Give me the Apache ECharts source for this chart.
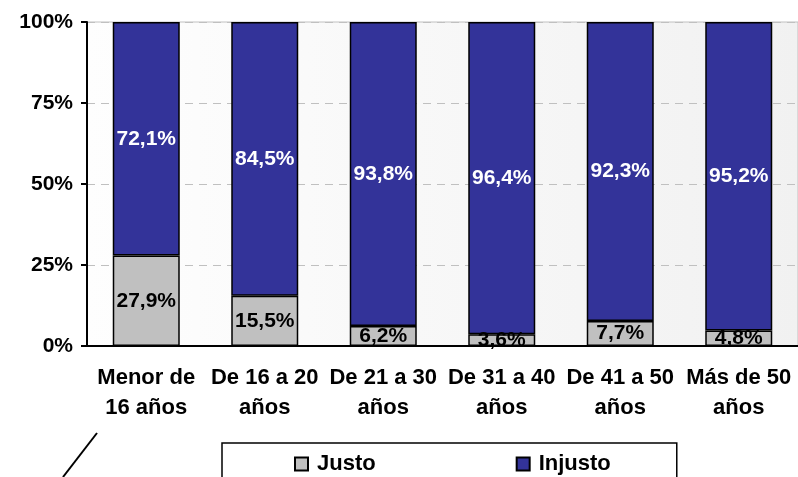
<!DOCTYPE html>
<html>
<head>
<meta charset="utf-8">
<title>Justo / Injusto por edad</title>
<script src="https://cdn.jsdelivr.net/npm/echarts@6/dist/echarts.min.js"></script>
<style>
html, body { margin: 0; padding: 0; background: #fff; }
#chart { width: 798px; height: 477px; }
</style>
</head>
<body>
<div id="chart"></div>
<script>
var categories = ['Menor de\n16 años', 'De 16 a 20\naños', 'De 21 a 30\naños', 'De 31 a 40\naños', 'De 41 a 50\naños', 'Más de 50\naños'];
var justo = [27.9, 15.5, 6.2, 3.6, 7.7, 4.8];
var injusto = [72.1, 84.5, 93.8, 96.4, 92.3, 95.2];
var yTicks = [0, 25, 50, 75, 100];

var font = 'Liberation Sans, Arial, sans-serif';

function pct(p) {
	return p.value.toFixed(1).replace('.', ',') + '%';
}

var chart = echarts.init(document.getElementById('chart'));
chart.setOption({
	animation: false,
	textStyle: { fontFamily: font },
	grid: {
		left: 87, top: 22, width: 713, height: 324,
		show: true,
		borderColor: '#c0c0c0',
		borderWidth: 1,
		backgroundColor: new echarts.graphic.LinearGradient(0, 0, 1, 0, [
			{ offset: 0, color: '#fefefe' },
			{ offset: 1, color: '#f1f1f1' }
		])
	},
	legend: {
		data: ['Justo', 'Injusto'],
		icon: 'rect',
		left: 222, top: 443,
		padding: [10, 66, 19, 72],
		itemGap: 140,
		itemWidth: 13, itemHeight: 13,
		borderColor: '#000', borderWidth: 1.5,
		backgroundColor: '#fff',
		textStyle: { fontSize: 22, fontWeight: 'bold', color: '#000', fontFamily: font,
			padding: [0, 0, 0, 4] }
	},
	xAxis: {
		type: 'category',
		data: categories,
		axisLine: { lineStyle: { color: '#000', width: 2 } },
		axisTick: { length: 6, lineStyle: { color: '#000', width: 2 } },
		axisLabel: {
			margin: 17, interval: 0,
			fontSize: 22, fontWeight: 'bold', color: '#000', lineHeight: 30
		}
	},
	yAxis: {
		type: 'value',
		min: yTicks[0], max: yTicks[yTicks.length - 1], interval: 25,
		axisLine: { show: true, lineStyle: { color: '#000', width: 2 } },
		axisTick: { show: true, length: 6, lineStyle: { color: '#000', width: 2 } },
		axisLabel: {
			margin: 14, fontSize: 21, fontWeight: 'bold', color: '#000',
			formatter: '{value}%'
		},
		splitLine: { lineStyle: { color: '#c0c0c0', type: [8, 6], width: 1 } }
	},
	series: [
		{
			name: 'Justo', type: 'bar', stack: 'total', barWidth: 67,
			data: justo,
			itemStyle: { color: '#c0c0c0', borderColor: '#000', borderWidth: 1.5 },
			label: { show: true, position: 'inside', formatter: pct,
				fontSize: 21, fontWeight: 'bold', color: '#000' }
		},
		{
			name: 'Injusto', type: 'bar', stack: 'total', barWidth: 67,
			data: injusto,
			itemStyle: { color: '#333399', borderColor: '#000', borderWidth: 1.5 },
			label: { show: true, position: 'inside', formatter: pct,
				fontSize: 21, fontWeight: 'bold', color: '#fff' }
		}
	],
	graphic: [{
		type: 'line',
		shape: { x1: 63, y1: 477, x2: 97, y2: 433 },
		style: { stroke: '#000', lineWidth: 2 }
	}]
});
</script>
</body>
</html>
